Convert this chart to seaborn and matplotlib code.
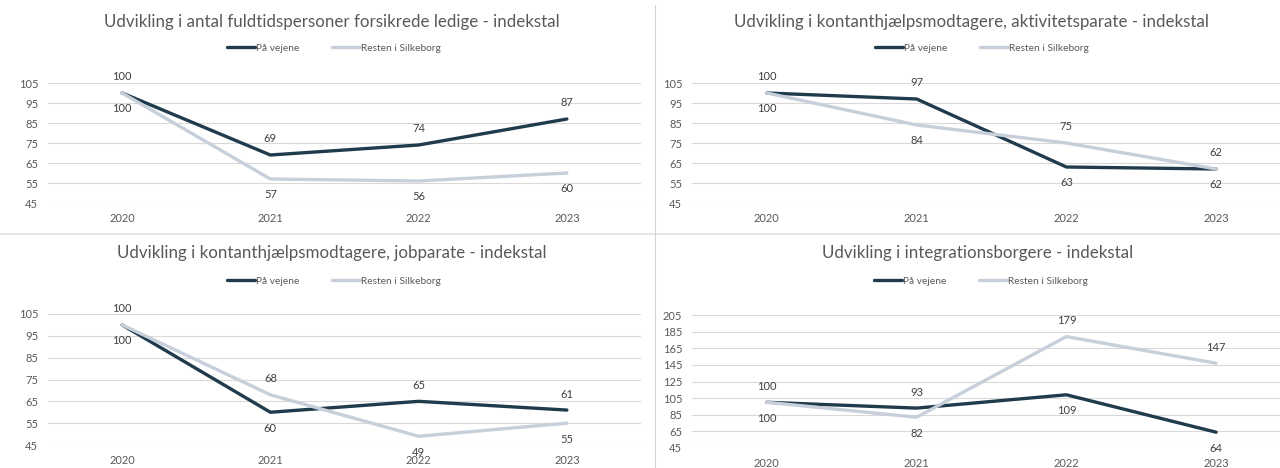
import pandas as pd
import matplotlib
matplotlib.use("Agg")
import matplotlib.pyplot as plt
import seaborn as sns
from matplotlib.lines import Line2D

sns.set_theme(style="white")
plt.rcParams['font.family'] = ['Lato', 'DejaVu Sans']

# ------------------------------------------------------------------
# DATA
# ------------------------------------------------------------------
years = [2020, 2021, 2022, 2023]
series_names = ['På vejene', 'Resten i Silkeborg']

ledige_vejene = [100, 69, 74, 87]
ledige_resten = [100, 57, 56, 60]
aktivitet_vejene = [100, 97, 63, 62]
aktivitet_resten = [100, 84, 75, 62]
jobparat_vejene = [100, 60, 65, 61]
jobparat_resten = [100, 68, 49, 55]
integration_vejene = [100, 93, 109, 64]
integration_resten = [100, 82, 179, 147]

titles = [
    'Udvikling i antal fuldtidspersoner forsikrede ledige - indekstal',
    'Udvikling i kontanthjælpsmodtagere, aktivitetsparate - indekstal',
    'Udvikling i kontanthjælpsmodtagere, jobparate - indekstal',
    'Udvikling i integrationsborgere - indekstal',
]
y_ticks_small = [45, 55, 65, 75, 85, 95, 105]
y_ticks_large = [45, 65, 85, 105, 125, 145, 165, 185, 205]

# ------------------------------------------------------------------
# STYLE / LAYOUT
# ------------------------------------------------------------------
W, H = 1280, 468
dark = '#203B4C'
light = '#C6CFDA'
palette = {series_names[0]: dark, series_names[1]: light}
text_col = '#595959'

# axes boxes in pixels: left, right, top, bottom
boxes = [
    (48, 641, 83, 203),
    (692, 1291, 83, 203),
    (48, 641, 314, 445),
    (692, 1291, 315, 448),
]
title_pos = [(332, 22), (971, 22), (332, 253), (978, 253)]
legend_pos = [(334, 48), (982, 48), (334, 281), (981, 281)]
# label placement (+1 above, -1 below) for each series per panel
placement = [
    ([1, 1, 1, 1], [-1, -1, -1, -1]),
    ([1, 1, -1, -1], [-1, -1, 1, 1]),
    ([1, -1, 1, 1], [-1, 1, -1, -1]),
    ([1, 1, -1, -1], [-1, -1, 1, 1]),
]

panels = [
    (ledige_vejene, ledige_resten, y_ticks_small),
    (aktivitet_vejene, aktivitet_resten, y_ticks_small),
    (jobparat_vejene, jobparat_resten, y_ticks_small),
    (integration_vejene, integration_resten, y_ticks_large),
]

fig = plt.figure(figsize=(W / 100, H / 100), dpi=100)

for i, (vejene, resten, yt) in enumerate(panels):
    l, r, t, b = boxes[i]
    ax = fig.add_axes([l / W, 1 - b / H, (r - l) / W, (b - t) / H])
    df = pd.DataFrame({
        'år': years * 2,
        'indeks': vejene + resten,
        'serie': [series_names[0]] * 4 + [series_names[1]] * 4,
    })
    sns.lineplot(data=df, x='år', y='indeks', hue='serie', palette=palette,
                 hue_order=series_names, linewidth=2.4, legend=False, ax=ax,
                 solid_joinstyle='round', solid_capstyle='round')
    ax.set_xlim(years[0] - 0.5, years[-1] + 0.5)
    ax.set_ylim(yt[0], yt[-1])
    ax.set_yticks(yt)
    ax.set_xticks(years)
    ax.set_xticklabels([str(y) for y in years])
    ax.yaxis.grid(True, color='#D9D9D9', linewidth=0.8)
    ax.set_axisbelow(True)
    for s in ax.spines.values():
        s.set_visible(False)
    ax.tick_params(axis='both', length=0, labelsize=8, labelcolor=text_col)
    ax.tick_params(axis='y', pad=7)
    ax.tick_params(axis='x', pad=7)
    ax.set_xlabel('')
    ax.set_ylabel('')

    for vals, sides in zip((vejene, resten), placement[i]):
        for x, v, s in zip(years, vals, sides):
            ax.annotate(str(v), (x, v), xytext=(0, 16 * s), textcoords='offset pixels',
                        ha='center', va='center', fontsize=8, color='#404040',
                        annotation_clip=False)

    cx, cy = title_pos[i]
    fig.text(cx / W, 1 - cy / H, titles[i], ha='center', va='center',
             fontsize=12.2, color=text_col)

    handles = [Line2D([], [], color=dark, lw=2.4), Line2D([], [], color=light, lw=2.4)]
    lx, ly = legend_pos[i]
    leg = ax.legend(handles, series_names, loc='center', ncol=2, frameon=False,
                    bbox_to_anchor=(lx / W, 1 - ly / H), bbox_transform=fig.transFigure,
                    fontsize=7.3, handlelength=2.8, handletextpad=0.1, columnspacing=3.2,
                    borderpad=0)
    for txt in leg.get_texts():
        txt.set_color(text_col)

# panel separators
fig.add_artist(Line2D([0, 1], [1 - 234 / H] * 2, transform=fig.transFigure,
                      color='#E6E6E6', lw=1.5))
fig.add_artist(Line2D([655 / W] * 2, [0, 1 - 5 / H], transform=fig.transFigure,
                      color='#D4D4D4', lw=0.8))

fig.savefig('out.png', dpi=100, facecolor='white')
